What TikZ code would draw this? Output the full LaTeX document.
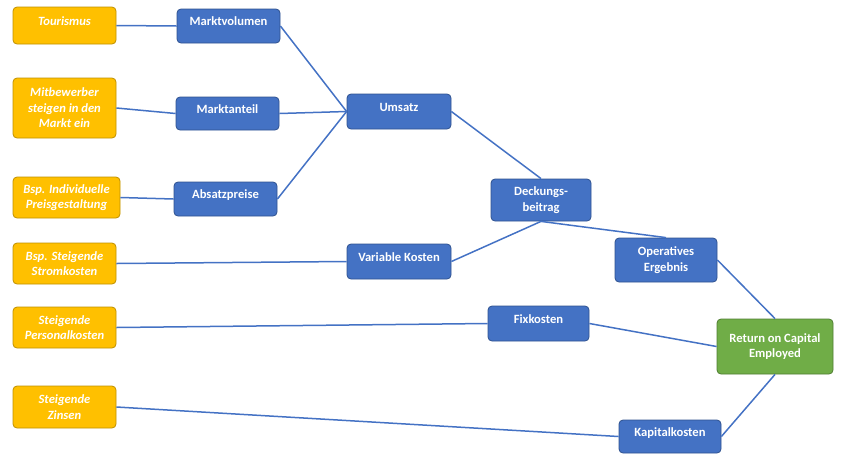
\documentclass[tikz,border=0pt]{standalone}
\usepackage{fontspec}
\setmainfont{Carlito}
\definecolor{gelb}{HTML}{FFC000}
\definecolor{gelbrand}{HTML}{BF9000}
\definecolor{blau}{HTML}{4472C4}
\definecolor{blaurand}{HTML}{2F528F}
\definecolor{gruen}{HTML}{70AD47}
\definecolor{gruenrand}{HTML}{507E32}
\begin{document}
\begin{tikzpicture}[x=1pt,y=-1pt,
	box/.style={rounded corners=4pt,line width=0.8pt,align=center,inner sep=2pt,text=white,
		font=\fontsize{12.6}{15.5}\selectfont\bfseries},
	yellowbox/.style={box,fill=gelb,draw=gelbrand,minimum width=103pt,
		font=\fontsize{12.6}{15.5}\selectfont\bfseries\itshape},
	bluebox/.style={box,fill=blau,draw=blaurand},
	greenbox/.style={box,fill=gruen,draw=gruenrand},
	raised/.style={text height=9pt,text depth=10pt},
	link/.style={blau,line width=1.5pt}]
	\useasboundingbox (0,0) rectangle (850,464);
	% Einflussfaktoren
	\node[yellowbox,raised,minimum height=37pt] (tour) at (64.5,25.5) {Tourismus};
	\node[yellowbox,minimum height=60pt] (mitb) at (64.5,108) {Mitbewerber\\steigen in den\\Markt ein};
	\node[yellowbox,minimum width=107pt,minimum height=41pt] (indiv) at (66.5,197.5) {Bsp. Individuelle\\Preisgestaltung};
	\node[yellowbox,minimum height=41pt] (strom) at (64.5,263.5) {Bsp. Steigende\\Stromkosten};
	\node[yellowbox,minimum height=41pt] (personal) at (64.5,327.5) {Steigende\\Personalkosten};
	\node[yellowbox,minimum height=42pt] (zinsen) at (64.5,407) {Steigende\\Zinsen};
	% Kennzahlen
	\node[bluebox,raised,minimum width=103pt,minimum height=34pt] (volumen) at (228.5,26) {Marktvolumen};
	\node[bluebox,raised,minimum width=103pt,minimum height=33pt] (anteil) at (227.5,113.5) {Marktanteil};
	\node[bluebox,raised,minimum width=103pt,minimum height=34pt] (preise) at (225.5,199) {Absatzpreise};
	\node[bluebox,raised,minimum width=104pt,minimum height=35pt] (umsatz) at (399,111.5) {Umsatz};
	\node[bluebox,minimum width=100pt,minimum height=42pt] (deckung) at (541,200) {Deckungs-\\beitrag};
	\node[bluebox,raised,minimum width=104pt,minimum height=35pt] (variabel) at (399,261.5) {Variable Kosten};
	\node[bluebox,minimum width=102pt,minimum height=44pt] (operativ) at (666,260) {Operatives\\Ergebnis};
	\node[bluebox,raised,minimum width=101pt,minimum height=35pt] (fix) at (538.5,323.5) {Fixkosten};
	\node[bluebox,raised,minimum width=102pt,minimum height=33pt] (kapital) at (670,436.5) {Kapitalkosten};
	\node[greenbox,minimum width=116pt,minimum height=55pt] (roce) at (775,346.5) {Return on Capital\\Employed};
	% Verbindungen
	\draw[link] (tour.east) -- (volumen.west);
	\draw[link] (mitb.east) -- (anteil.west);
	\draw[link] (indiv.east) -- (preise.west);
	\draw[link] (volumen.east) -- (umsatz.west);
	\draw[link] (anteil.east) -- (umsatz.west);
	\draw[link] (preise.east) -- (umsatz.west);
	\draw[link] (strom.east) -- (variabel.west);
	\draw[link] (umsatz.east) -- (deckung.north);
	\draw[link] (variabel.east) -- (deckung.south);
	\draw[link] (deckung.south) -- (operativ.north);
	\draw[link] (personal.east) -- (fix.west);
	\draw[link] (zinsen.east) -- (kapital.west);
	\draw[link] (operativ.east) -- (roce.north);
	\draw[link] (fix.east) -- (roce.west);
	\draw[link] (kapital.east) -- (roce.south);
\end{tikzpicture}
\end{document}
